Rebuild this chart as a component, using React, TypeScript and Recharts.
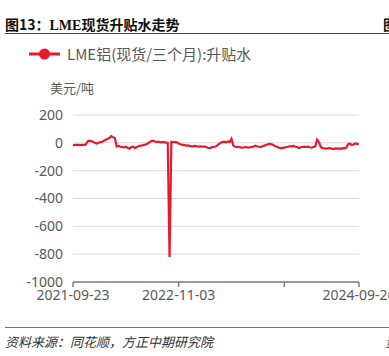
import React from 'react';
import {
  LineChart,
  Line,
  XAxis,
  YAxis,
  CartesianGrid,
} from 'recharts';

// 周度数据，起点 2021-09-23
const startDate = '2021-09-23';

const spread = [
  -15, -16, -14, -15, -17, -15, -14, -12,
  10, 15, 12, 8, 0,
  -5, 0, 5,
  8, 15, 22, 30, 35,
  48, 40, 35,
  -25,
  -22, -28, -30, -33, -28, -35, -42, -30, -28, -38,
  -30, -25, -20, -18, -15, -12,
  -5, 5, 12, 15,
  10, 5, 8, 3, 6, 5,
  2, 0, -820, 8, 6, 5, 3, -5, -10,
  -15, -15, -20, -18, -22, -25, -25, -22, -25, -27, -25, -28, -26,
  -30, -35, -38, -33, -30, -28,
  -20, -10, 0, 5, 8, 3,
  10, 5, 28, -20,
  -28, -30, -30, -33, -35, -32, -30, -35, -33, -30, -28, -20,
  -25, -28, -30, -25, -20, -15,
  -10, -8, -10, -15,
  -25, -28, -35, -38, -36,
  -35, -30, -28, -25, -25, -22, -28, -30, -38, -32,
  -30, -28, -30, -28, -32, -35, -30, -25,
  22, 5, -30,
  -38, -40, -42, -40, -38, -42, -45, -40, -42, -40, -43, -38, -40, -35,
  -10, -5, -15, -12, -5, -8, -10,
];

const xTicks = ['2021-09-23', '2022-11-03', '2023-12-14', '2024-09-26'];
const hiddenTickLabels = ['2023-12-14'];
const yTicks = [200, 0, -200, -400, -600, -800, -1000];

const seriesName = 'LME铝(现货/三个月):升贴水';

const toDateLabel = (i: number) => {
  const d = new Date(startDate + 'T00:00:00Z');
  d.setUTCDate(d.getUTCDate() + i * 7);
  return d.toISOString().slice(0, 10);
};

const data = spread.map((v, i) => ({ date: toDateLabel(i), value: v }));

const RED = '#e8192c';
const GRAY = '#595959';

export default function App() {
  return (
    <div
      style={{
        position: 'absolute',
        left: 0,
        top: 0,
        width: 389,
        height: 356,
        background: '#fff',
        overflow: 'hidden',
        fontFamily: '"Noto Sans CJK SC", "Noto Sans", sans-serif',
      }}
    >
      {/* 标题 */}
      <div
        style={{
          position: 'absolute',
          left: 5,
          top: 14,
          fontSize: 14,
          fontWeight: 700,
          color: '#111',
          whiteSpace: 'nowrap',
        }}
      >
        图13：<span style={{ fontFamily: '"Liberation Serif", serif' }}>LME</span>现货升贴水走势
      </div>
      <div
        style={{
          position: 'absolute',
          left: 383,
          top: 14,
          fontSize: 14,
          fontWeight: 700,
          color: '#111',
          whiteSpace: 'nowrap',
        }}
      >
        图
      </div>
      <div
        style={{
          position: 'absolute',
          left: 5,
          top: 33,
          width: 384,
          height: 1,
          background: '#1f4e79',
        }}
      />

      {/* 图例 */}
      <div
        style={{
          position: 'absolute',
          left: 29,
          top: 43,
          display: 'flex',
          alignItems: 'center',
        }}
      >
        <svg width={32} height={14}>
          <line x1={0} y1={7} x2={31} y2={7} stroke={RED} strokeWidth={3} />
          <circle cx={15.5} cy={7} r={5.5} fill={RED} />
        </svg>
        <span style={{ marginLeft: 6, fontSize: 15, color: GRAY }}>{seriesName}</span>
      </div>

      <div
        style={{
          position: 'absolute',
          left: 50,
          top: 78,
          fontSize: 13,
          color: GRAY,
        }}
      >
        美元/吨
      </div>

      <div style={{ position: 'absolute', left: 0, top: 0 }}>
        <LineChart
          width={389}
          height={356}
          data={data}
          margin={{ top: 115, right: 30, bottom: 44, left: 8 }}
        >
          <CartesianGrid vertical={false} stroke="#d9d9d9" strokeWidth={1} />
          <XAxis
            dataKey="date"
            ticks={xTicks}
            interval={0}
            height={30}
            tickFormatter={(v: string) => (hiddenTickLabels.includes(v) ? '' : v)}
            axisLine={{ stroke: '#7f7f7f', strokeWidth: 1.5 }}
            tickLine={{ stroke: '#7f7f7f', strokeWidth: 1.5 }}
            tickSize={5}
            tickMargin={3}
            tick={{ fontSize: 14, fill: GRAY, fontFamily: '"Noto Sans", sans-serif' }}
          />
          <YAxis
            width={65}
            domain={[-1000, 200]}
            ticks={yTicks}
            interval={0}
            axisLine={false}
            tickLine={false}
            tickMargin={4}
            tick={{ fontSize: 14, fill: GRAY, fontFamily: '"Noto Sans", sans-serif' }}
          />
          <Line
            type="linear"
            dataKey="value"
            name={seriesName}
            stroke={RED}
            strokeWidth={2.2}
            dot={false}
            isAnimationActive={false}
          />
        </LineChart>
      </div>

      {/* 资料来源 */}
      <div
        style={{
          position: 'absolute',
          left: 5,
          top: 327,
          width: 384,
          height: 1,
          background: '#5b7c99',
        }}
      />
      <div
        style={{
          position: 'absolute',
          left: 5,
          top: 332,
          fontSize: 13,
          fontStyle: 'italic',
          color: '#333',
          whiteSpace: 'nowrap',
        }}
      >
        资料来源：同花顺，方正中期研究院
      </div>
      <div
        style={{
          position: 'absolute',
          left: 385,
          top: 332,
          fontSize: 13,
          fontStyle: 'italic',
          color: '#333',
          whiteSpace: 'nowrap',
        }}
      >
        资
      </div>
    </div>
  );
}
